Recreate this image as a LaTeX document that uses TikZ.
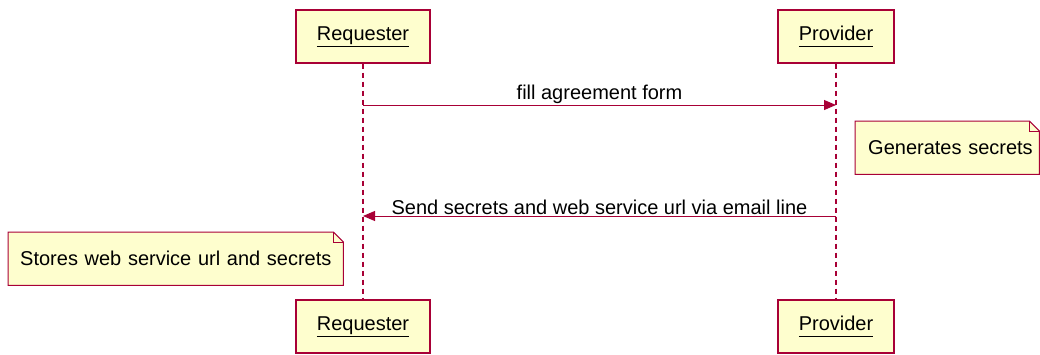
\documentclass[tikz,border=0pt]{standalone}
\usepackage{fontspec}
\setmainfont{Liberation Sans}
\usetikzlibrary{arrows.meta,backgrounds}
\definecolor{umlred}{HTML}{A80036}
\definecolor{umlfill}{HTML}{FEFECE}

\begin{document}
\begin{tikzpicture}[x=1pt,y=-1pt,
	actor/.style={draw=umlred, fill=umlfill, line width=1.4pt, minimum height=53pt, inner sep=0pt, font=\fontsize{20}{24}\selectfont},
	lifeline/.style={draw=umlred, line width=1.5pt, dash pattern=on 5pt off 4pt},
	msg/.style={draw=umlred, line width=1pt, -{Triangle[length=12pt,width=10pt]}},
	msglabel/.style={font=\fontsize{20}{24}\selectfont, inner sep=0.5pt},
	note/.style={minimum height=53pt, inner ysep=0pt, align=left, font=\fontsize{20}{24}\selectfont},
	notebox/.style={draw=umlred, fill=umlfill, line width=1pt, line join=miter}]

	\useasboundingbox (0,0) rectangle (1040,354);

	% participants
	\node[actor, minimum width=134pt] (reqTop) at (363,36.5) {\underline{Requester}};
	\node[actor, minimum width=116pt] (provTop) at (836,36.5) {\underline{\vphantom{q}Provider}};
	\node[actor, minimum width=134pt] (reqBot) at (363,326.5) {\underline{Requester}};
	\node[actor, minimum width=116pt] (provBot) at (836,326.5) {\underline{\vphantom{q}Provider}};

	\draw[lifeline] (reqTop) -- (reqBot);
	\draw[lifeline] (provTop) -- (provBot);

	% messages
	\coordinate (fillFrom) at (reqTop |- 0,105);
	\coordinate (fillTo) at (provTop |- 0,105);
	\coordinate (sendFrom) at (provTop |- 0,216);
	\coordinate (sendTo) at (reqTop |- 0,216);

	\draw[msg] (fillFrom) -- node[above, msglabel] {fill agreement form} (fillTo);
	\draw[msg] (sendFrom) -- node[above, msglabel] {Send secrets and web service url via email line} (sendTo);

	% notes
	\node[note, anchor=north west, text width=158pt, inner xsep=13pt] (genNote) at (855,121) {\mbox{Generates secrets}};
	\node[note, anchor=north west, text width=311pt, inner xsep=12pt] (storeNote) at (8,232) {\mbox{Stores web service url and secrets}};

	\begin{pgfonlayer}{background}
	\foreach \n in {genNote,storeNote} {
		\draw[notebox] (\n.north west) -- ([xshift=-10pt]\n.north east) -- ([yshift=-10pt]\n.north east) -- (\n.south east) -- (\n.south west) -- cycle;
		\draw[notebox, fill=none] ([xshift=-10pt]\n.north east) -- ([xshift=-10pt,yshift=-10pt]\n.north east) -- ([yshift=-10pt]\n.north east);
	}
	\end{pgfonlayer}

\end{tikzpicture}
\end{document}
